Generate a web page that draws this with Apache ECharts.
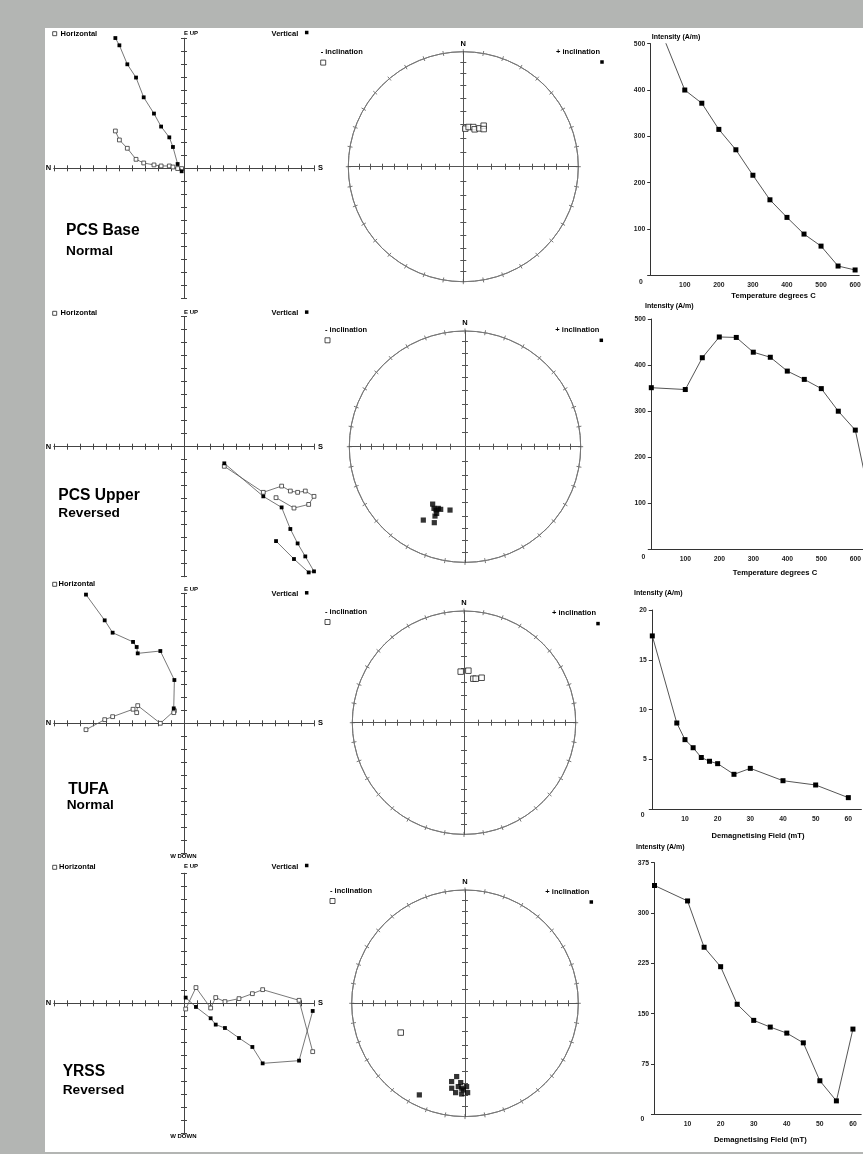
<!DOCTYPE html>
<html><head><meta charset="utf-8">
<script src="https://cdn.jsdelivr.net/npm/echarts@6/dist/echarts.min.js"></script>
<style>
html,body{margin:0;padding:0;width:863px;height:1154px;overflow:hidden;background:#b3b5b3;}
#paper{position:absolute;left:45px;top:28px;width:818px;height:1124px;background:#fff;}
#chart{position:absolute;left:0;top:0;width:863px;height:1154px;}
</style></head><body>
<div id="paper"></div><div id="chart"></div>
<script>
// ---------------- DATA ----------------
const sampleNames = ['PCS Base', 'PCS Upper', 'TUFA', 'YRSS'];
const polarities  = ['Normal', 'Reversed', 'Normal', 'Reversed'];
const incTicks = [10, 20, 30, 40, 50, 60, 70, 80];

// Zijderveld (N-S axis units, horizontal projection, vertical projection)
const pcsBaseNS    = [-5.28, -4.97, -4.36, -3.69, -3.10, -2.31, -1.76, -1.13, -0.85, -0.49, -0.18];
const pcsBaseHoriz = [2.87, 2.18, 1.54, 0.69, 0.41, 0.26, 0.18, 0.18, 0.10, -0.02, -0.02];
const pcsBaseVert  = [10.02, 9.46, 8.0, 6.98, 5.46, 4.21, 3.21, 2.38, 1.64, 0.33, -0.23];

const pcsUpperNS    = [3.10, 6.10, 7.51, 8.18, 8.74, 9.33, 10.0, 9.59, 8.46, 7.08];
const pcsUpperHoriz = [-1.51, -3.51, -3.03, -3.41, -3.51, -3.41, -3.82, -4.44, -4.72, -3.92];
const pcsUpperVert  = [-1.28, -3.82, -4.67, -6.33, -7.44, -8.44, -9.59, -9.67, -8.64, -7.26];

const tufaNS    = [-7.54, -6.10, -5.49, -3.92, -3.64, -3.56, -1.82, -0.74, -0.79];
const tufaHoriz = [-0.49, 0.28, 0.51, 1.08, 0.82, 1.36, 0.0, 0.97, 0.82];
const tufaVert  = [9.90, 7.92, 6.97, 6.26, 5.87, 5.38, 5.56, 3.33, 1.15];

const yrssNS    = [0.13, 0.92, 2.05, 2.44, 3.15, 4.23, 5.26, 6.05, 8.85, 9.90];
const yrssHoriz = [-0.44, 1.21, -0.36, 0.44, 0.13, 0.36, 0.74, 1.05, 0.23, -3.72];
const yrssVert  = [0.44, -0.28, -1.15, -1.64, -1.90, -2.67, -3.36, -4.62, -4.41, -0.59];

// Stereonets (declination, inclination)
const pcsBaseDec = [3.0, 7.7, 14.1, 16.9, 22.7, 26.4, 28.4];
const pcsBaseInc = [-62.9, -61.5, -60.9, -62.2, -60.4, -57.3, -59.5];

const pcsUpperDec = [209.4, 206.7, 204.6, 203.4, 201.2, 203.0, 203.4, 193.3, 209.6, 202.0];
const pcsUpperInc = [42.5, 40.1, 39.6, 41.5, 41.5, 37.4, 35.0, 43.1, 27.9, 29.9];

const tufaDec = [356.3, 4.8, 12.0, 14.9, 21.4];
const tufaInc = [-52.2, -51.4, -56.9, -56.5, -54.4];

const yrssUpDec = [245.5];
const yrssUpInc = [-37.7];
const yrssDownDec = [186.5, 189.7, 183.1, 188.9, 184.6, 182.2, 178.9, 186.0, 182.1, 178.3, 181.1, 206.5];
const yrssDownInc = [35.2, 30.6, 30.6, 25.1, 27.1, 25.9, 27.3, 21.8, 21.0, 22.2, 24.5, 10.6];

// Intensity decay
const pcsBaseTemp = [0, 100, 150, 200, 250, 300, 350, 400, 450, 500, 550, 600];
const pcsBaseInt  = [582, 400, 371.5, 315, 271, 216, 163, 125, 89, 63, 20, 11.5];
const pcsUpperTemp = [0, 100, 150, 200, 250, 300, 350, 400, 450, 500, 550, 600, 650];
const pcsUpperInt  = [351, 347, 416, 461, 460, 428, 417, 387, 369, 349, 300, 259, 85];
const tufaField = [0, 7.5, 10, 12.5, 15, 17.5, 20, 25, 30, 40, 50, 60];
const tufaInt   = [17.4, 8.66, 6.99, 6.18, 5.2, 4.82, 4.58, 3.51, 4.11, 2.87, 2.44, 1.17];
const yrssField = [0, 10, 15, 20, 25, 30, 35, 40, 45, 50, 55, 60];
const yrssInt   = [341, 318, 249, 220, 164, 140, 130, 121, 106.5, 50, 20, 127];

// ---------------- BUILD ----------------
const FONT = '"Liberation Sans", Arial, sans-serif';
const AX = '#444';
const grid = [], xAxis = [], yAxis = [], series = [], polar = [], angleAxis = [], radiusAxis = [], graphic = [];

function T(text, x, y, size, align, color) {
  graphic.push({type: 'text', x: x, y: y, silent: true,
    style: {text: text, fill: color || '#000', font: 'bold ' + size + 'px ' + FONT,
            align: align || 'left', verticalAlign: 'middle'}});
}
function SQ(cx, cy, s, filled) {
  graphic.push({type: 'rect', silent: true, shape: {x: cx - s / 2, y: cy - s / 2, width: s, height: s},
    style: filled ? {fill: '#000'} : {fill: '#fff', stroke: '#222', lineWidth: 0.8}});
}
function pairs(a, b) { return a.map((v, i) => [v, b[i]]); }
function eqArea(inc) { return Math.SQRT2 * Math.sin((90 - Math.abs(inc)) / 2 * Math.PI / 180); }

function crossGrid(left, top, w, h, min, max, interval, tickLen, customTicks, color) {
  const ids = [];
  [false, true].forEach(function (inside) {
    const gi = grid.length;
    grid.push({left: left, top: top, width: w, height: h, containLabel: false, outerBoundsMode: 'none'});
    const base = function () {
      const tick = {show: true, inside: inside, length: tickLen, lineStyle: {color: color, width: 1}};
      if (customTicks) tick.customValues = customTicks;
      const o = {gridIndex: gi, type: 'value', min: min, max: max,
        axisLine: {show: true, onZero: true, lineStyle: {color: color, width: 1}},
        axisTick: tick, axisLabel: {show: false}, splitLine: {show: false}};
      if (interval) o.interval = interval;
      return o;
    };
    xAxis.push(base()); yAxis.push(base());
    ids.push({gi: gi, xi: xAxis.length - 1, yi: yAxis.length - 1});
  });
  return ids[0];
}

function addZij(cx, cy, ns, hz, vt, ylab, vlab, wdown) {
  const h = 130;
  const g = crossGrid(cx - h, cy - h, 2 * h, 2 * h, -10, 10, 1, 3, null, AX);
  series.push({type: 'line', xAxisIndex: g.xi, yAxisIndex: g.yi, data: pairs(ns, hz),
    symbol: 'rect', symbolSize: 3.8, showAllSymbol: true, clip: false,
    lineStyle: {color: '#555', width: 0.8},
    itemStyle: {color: '#fff', borderColor: '#333', borderWidth: 0.8}, z: 3});
  series.push({type: 'line', xAxisIndex: g.xi, yAxisIndex: g.yi, data: pairs(ns, vt),
    symbol: 'rect', symbolSize: 3.8, showAllSymbol: true, clip: false,
    lineStyle: {color: '#555', width: 0.8},
    itemStyle: {color: '#000'}, z: 4});
  SQ(54.7, ylab.h, 4, false);
  T('Horizontal', ylab.hx || 60.5, ylab.h, 7.5);
  T('E UP', cx, ylab.e, 6);
  T('Vertical', 298.3, ylab.v, 7.5, 'right');
  SQ(306.7, ylab.v - 1.2, 3.5, true);
  T('N', 48.5, cy, 7.5, 'center');
  T('S', 320.5, cy, 7.5, 'center');
  if (wdown) T('W DOWN', cx - 0.7, cy + h + 3.5, 6, 'center');
}

function addStereo(cx, cy, R, openDec, openInc, fillDec, fillInc, leg) {
  [false, true].forEach(function (inside) {
    const pi = polar.length;
    polar.push({center: [cx, cy], radius: R});
    angleAxis.push({polarIndex: pi, type: 'value', min: 0, max: 360, interval: 10,
      startAngle: 90, clockwise: true,
      axisLine: {show: true, lineStyle: {color: '#777', width: 1}},
      axisTick: {show: true, inside: inside, length: 2.5, lineStyle: {color: '#777', width: 1}},
      axisLabel: {show: false}, splitLine: {show: false}, splitArea: {show: false}});
    radiusAxis.push({polarIndex: pi, type: 'value', min: 0, max: 1, show: false,
      axisLine: {show: false}, axisTick: {show: false}, axisLabel: {show: false},
      splitLine: {show: false}, splitArea: {show: false}});
  });
  const pi0 = polar.length - 2;
  const tv = [];
  incTicks.forEach(function (i) { const r = eqArea(i); tv.push(r, -r); });
  crossGrid(cx - R, cy - R, 2 * R, 2 * R, -1, 1, null, 3, tv, '#555');
  if (openDec.length) series.push({type: 'scatter', coordinateSystem: 'polar', polarIndex: pi0,
    data: openDec.map((d, i) => [eqArea(openInc[i]), d]), symbol: 'rect', symbolSize: 5.5,
    itemStyle: {color: '#fff', borderColor: '#222', borderWidth: 1}, z: 5});
  if (fillDec.length) series.push({type: 'scatter', coordinateSystem: 'polar', polarIndex: pi0,
    data: fillDec.map((d, i) => [eqArea(fillInc[i]), d]), symbol: 'rect', symbolSize: 5.2,
    itemStyle: {color: '#000'}, z: 6});
  T('N', cx, cy - R - 8, 7.5, 'center');
  T('- inclination', leg.mx, leg.my, 7.5);
  SQ(leg.mx + 2.5, leg.my + 10.3, 5, false);
  T('+ inclination', leg.px, leg.py, 7.5, 'right');
  SQ(leg.px + 2, leg.py + 10.3, 3.5, true);
}

function addInt(left, top, w, h, xmax, xint, ymax, yint, xs, ys, zero, titles) {
  const gi = grid.length;
  grid.push({left: left, top: top, width: w, height: h, containLabel: false, outerBoundsMode: 'none'});
  const lab = {show: true, color: '#222', fontFamily: FONT, fontWeight: 'bold', fontSize: 6.8};
  xAxis.push({gridIndex: gi, type: 'value', min: 0, max: xmax, interval: xint,
    axisLine: {show: true, onZero: false, lineStyle: {color: '#333', width: 1}},
    axisTick: {show: false}, splitLine: {show: false},
    axisLabel: Object.assign({}, lab, {margin: 6.5, showMaxLabel: false,
      formatter: v => (v === 0 ? '' : String(v))})});
  yAxis.push({gridIndex: gi, type: 'value', min: 0, max: ymax, interval: yint,
    axisLine: {show: true, onZero: false, lineStyle: {color: '#333', width: 1}},
    axisTick: {show: true, length: 3.5, lineStyle: {color: '#333', width: 1}}, splitLine: {show: false},
    axisLabel: Object.assign({}, lab, {margin: 5.5, formatter: v => (v === 0 ? '' : String(v))})});
  series.push({type: 'line', xAxisIndex: xAxis.length - 1, yAxisIndex: yAxis.length - 1,
    data: pairs(xs, ys), symbol: 'rect', symbolSize: 5, showAllSymbol: true, clip: true,
    lineStyle: {color: '#555', width: 1}, itemStyle: {color: '#000'}, z: 3});
  T('0', zero[0], zero[1], 6.8, 'center', '#222');
  T('Intensity (A/m)', titles.ix, titles.iy, 7);
  T(titles.x, titles.xx, titles.xy, 7.6, 'center');
}

// ---- Row 1: PCS Base ----
addZij(184, 168.3, pcsBaseNS, pcsBaseHoriz, pcsBaseVert, {h: 33.7, e: 33, v: 33.7}, null, false);
addStereo(463.3, 166.7, 115, pcsBaseDec, pcsBaseInc, [], [],
  {mx: 320.7, my: 52.3, px: 600, py: 51.7});
addInt(650.7, 43.7, 208.5, 231.6, 612, 100, 500, 100, pcsBaseTemp, pcsBaseInt, [641, 282.5],
  {ix: 651.7, iy: 36.8, x: 'Temperature degrees C', xx: 773.5, xy: 296});

// ---- Row 2: PCS Upper ----
addZij(184, 446.7, pcsUpperNS, pcsUpperHoriz, pcsUpperVert, {h: 313.3, e: 312.7, v: 313.3}, null, false);
addStereo(465, 446.7, 115.7, [], [], pcsUpperDec, pcsUpperInc,
  {mx: 325, my: 330, px: 599.3, py: 330});
addInt(651.3, 319, 238, 230.5, 700, 100, 500, 100, pcsUpperTemp, pcsUpperInt, [643.3, 556.7],
  {ix: 645, iy: 306, x: 'Temperature degrees C', xx: 775, xy: 572.7});

// ---- Row 3: TUFA ----
addZij(184, 723.3, tufaNS, tufaHoriz, tufaVert, {h: 584.3, e: 589.3, v: 594, hx: 58.5}, null, true);
addStereo(464, 722.7, 111.7, tufaDec, tufaInc, [], [],
  {mx: 325, my: 611.7, px: 596, py: 613.3});
addInt(652.3, 610, 209.1, 199.3, 64, 10, 20, 5, tufaField, tufaInt, [642.7, 815],
  {ix: 634, iy: 593.3, x: 'Demagnetising Field (mT)', xx: 758, xy: 835.7});

// ---- Row 4: YRSS ----
addZij(184, 1003.3, yrssNS, yrssHoriz, yrssVert, {h: 867.3, e: 866.7, v: 866.7, hx: 59}, null, true);
addStereo(465, 1003.3, 113.3, yrssUpDec, yrssUpInc, yrssDownDec, yrssDownInc,
  {mx: 330, my: 890.7, px: 589.3, py: 891.7});
addInt(654.5, 862.7, 206.7, 251.6, 62.5, 10, 375, 75, yrssField, yrssInt, [642.3, 1119],
  {ix: 636, iy: 846.7, x: 'Demagnetising Field (mT)', xx: 760.3, xy: 1140});

// Sample titles
const titlePos = [[66, 231, 251.5], [58.3, 495.8, 513.3], [68.3, 789.7, 805.7], [62.7, 1071.5, 1090]];
sampleNames.forEach(function (n, i) {
  const p = titlePos[i];
  T(n, p[0], p[1], 15.6);
  T(polarities[i], i === 2 ? p[0] - 1.6 : p[0], p[2], 13.7);
});

const chart = echarts.init(document.getElementById('chart'), null, {renderer: 'canvas'});
chart.setOption({
  animation: false,
  backgroundColor: 'transparent',
  grid: grid, xAxis: xAxis, yAxis: yAxis,
  polar: polar, angleAxis: angleAxis, radiusAxis: radiusAxis,
  series: series,
  graphic: {elements: graphic}
});
</script></body></html>
